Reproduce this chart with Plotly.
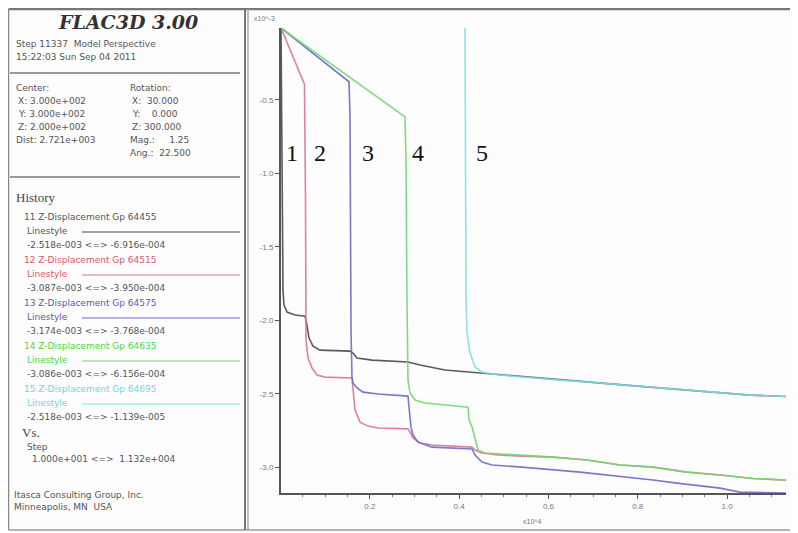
import plotly.graph_objects as go

# page body has an 8px default margin; figure is sized to fit the window
OFF = 8
W, H = 798 - OFF, 533 - OFF

# ---------------- data (step x1e4, Z-displacement x1e-3) ----------------
step_1 = [0.001, 0.0032, 0.0055, 0.0077, 0.0144, 0.0324, 0.0548, 0.0592, 0.0637, 0.0727, 0.0883,
          0.1555, 0.1623, 0.1712, 0.2048, 0.2854, 0.2944, 0.3123, 0.3683, 0.4467, 0.5407, 0.6259,
          0.7154, 0.8274, 0.9394, 1.0514, 1.132]
disp_1 = [-0.011, -1.181, -1.794, -1.896, -1.943, -1.964, -1.971, -2.032, -2.120, -2.175, -2.202,
          -2.209, -2.222, -2.256, -2.270, -2.283, -2.290, -2.304, -2.338, -2.358, -2.386, -2.406,
          -2.426, -2.454, -2.481, -2.508, -2.518]

step_2 = [0.001, 0.0536, 0.0559, 0.057, 0.0615, 0.0704, 0.0816, 0.0995, 0.16, 0.1623, 0.1667,
          0.1779, 0.1958, 0.2182, 0.2854, 0.2899, 0.2966, 0.3123, 0.3392, 0.4288, 0.4355, 0.4512,
          0.4870, 0.5407, 0.6102, 0.6863, 0.7602, 0.8341, 0.9103, 0.9842, 1.0581, 1.132]
disp_2 = [-0.011, -0.395, -1.181, -2.134, -2.256, -2.324, -2.372, -2.386, -2.392, -2.454, -2.610,
          -2.692, -2.719, -2.732, -2.738, -2.760, -2.800, -2.834, -2.848, -2.862, -2.882, -2.902,
          -2.916, -2.923, -2.930, -2.950, -2.984, -2.998, -3.032, -3.052, -3.075, -3.087]

step_3 = [0.001, 0.1533, 0.1555, 0.1566, 0.1578, 0.16, 0.1623, 0.1712, 0.1846, 0.2182, 0.2854,
          0.2877, 0.2921, 0.2966, 0.3078, 0.3392, 0.4288, 0.4355, 0.4512, 0.4736, 0.5407, 0.6706,
          0.7983, 0.8341, 0.8879, 0.9842, 1.029, 1.1029, 1.132]
disp_3 = [-0.011, -0.377, -0.60, -1.522, -2.066, -2.386, -2.426, -2.460, -2.488, -2.501, -2.515,
          -2.590, -2.726, -2.780, -2.828, -2.862, -2.875, -2.916, -2.964, -2.984, -2.998, -3.032,
          -3.073, -3.086, -3.107, -3.141, -3.168, -3.174, -3.174]

step_4 = [0.001, 0.2787, 0.2809, 0.282, 0.2832, 0.2854, 0.2899, 0.3011, 0.3235, 0.4198, 0.4221,
          0.4288, 0.4355, 0.4422, 0.4579, 0.5407, 0.6102, 0.6863, 0.7602, 0.8341, 0.9103, 0.9842,
          1.0581, 1.132]
disp_4 = [-0.011, -0.616, -0.90, -1.522, -1.862, -2.406, -2.494, -2.542, -2.562, -2.590, -2.678,
          -2.726, -2.814, -2.882, -2.902, -2.916, -2.930, -2.950, -2.984, -2.998, -3.032, -3.052,
          -3.075, -3.086]

step_5 = [0.4131, 0.4142, 0.4154, 0.4176, 0.4243, 0.4355, 0.4512, 0.4915, 0.5407, 0.6259, 0.7154,
          0.8274, 0.9394, 1.0514, 1.132]
disp_5 = [-0.011, -1.181, -1.862, -2.086, -2.222, -2.317, -2.352, -2.372, -2.386, -2.406, -2.426,
          -2.454, -2.481, -2.508, -2.518]

series_steps = [step_1, step_2, step_3, step_4, step_5]
series_disp = [disp_1, disp_2, disp_3, disp_4, disp_5]
series_colors = ["#4a4a4a", "#d8788a", "#6a6ac8", "#72d872", "#7ee2e2"]

point_labels = ["1", "2", "3", "4", "5"]
point_label_step = [0.0256, 0.0883, 0.196, 0.308, 0.451]
point_label_disp = [-0.862, -0.862, -0.862, -0.862, -0.862]

y_ticks = [-0.5, -1.0, -1.5, -2.0, -2.5, -3.0]
x_ticks = [0.2, 0.4, 0.6, 0.8, 1.0]

hist_titles = ["11 Z-Displacement Gp 64455", "12 Z-Displacement Gp 64515",
               "13 Z-Displacement Gp 64575", "14 Z-Displacement Gp 64635",
               "15 Z-Displacement Gp 64695"]
hist_ranges = ["-2.518e-003 <=> -6.916e-004", "-3.087e-003 <=> -3.950e-004",
               "-3.174e-003 <=> -3.768e-004", "-3.086e-003 <=> -6.156e-004",
               "-2.518e-003 <=> -1.139e-005"]
hist_text_colors = ["#555555", "#d85868", "#5a5ab8", "#48d848", "#6cd8e6"]

SANS = "DejaVu Sans"
FS = 9


def fx(px):
    return (px - OFF) / W


def fy(py):
    return 1 - (py - OFF) / H


# ---------------- figure ----------------
fig = go.Figure()
for xs, ys, c in zip(series_steps, series_disp, series_colors):
    fig.add_trace(go.Scatter(x=xs, y=ys, mode="lines",
                             line=dict(color=c, width=1.6), opacity=0.9,
                             showlegend=False, hoverinfo="skip"))

fig.update_layout(
    width=W, height=H, margin=dict(l=0, r=0, t=0, b=0),
    paper_bgcolor="#fdfdfd", plot_bgcolor="#fdfdfd",
    showlegend=False,
    xaxis=dict(domain=[fx(281), fx(786)], range=[0.001, 1.132],
               tickvals=x_ticks, ticktext=[f"{v:.1f}" for v in x_ticks],
               showgrid=False, zeroline=False, showline=True, linecolor="#555", linewidth=2,
               ticks="outside", ticklen=4, tickcolor="#555", tickwidth=1,
               minor=dict(dtick=0.05, ticks="outside", ticklen=2, tickcolor="#777"),
               tickfont=dict(family="Liberation Sans", size=8, color="#777")),
    yaxis=dict(domain=[fy(493), fy(28)], range=[-3.174, -0.0114],
               tickvals=y_ticks, ticktext=[f"{v:.1f}" for v in y_ticks],
               showgrid=False, zeroline=False, showline=True, linecolor="#555", linewidth=2,
               ticks="outside", ticklen=4, tickcolor="#555", tickwidth=1,
               tickfont=dict(family="Liberation Sans", size=8, color="#777")),
)

ann = []


def txt(px, py, s, size=FS, color="#555555", family=SANS, anchor="left"):
    ann.append(dict(x=fx(px), y=fy(py), xref="paper", yref="paper", text=s,
                    showarrow=False, xanchor=anchor, yanchor="middle",
                    font=dict(size=size, color=color, family=family)))


# point labels inside chart
for lab, sx, sy in zip(point_labels, point_label_step, point_label_disp):
    ann.append(dict(x=sx, y=sy, xref="x", yref="y", text=lab, showarrow=False,
                    xanchor="center", yanchor="middle",
                    font=dict(size=24, color="#111", family="Liberation Serif")))

# axis multipliers
txt(252, 18, "x10^-3", size=7, color="#777", family="Liberation Sans")
txt(521, 521, "x10^4", size=7, color="#777", family="Liberation Sans")

# left panel
txt(128, 22, "<b><i>FLAC3D 3.00</i></b>", size=19, color="#333", family="DejaVu Serif", anchor="center")
txt(14, 44, "Step 11337  Model Perspective")
txt(14, 57, "15:22:03 Sun Sep 04 2011")
txt(14, 88, "Center:")
txt(128, 88, "Rotation:")
left_col = ["X: 3.000e+002", "Y: 3.000e+002", "Z: 2.000e+002", "Dist: 2.721e+003"]
right_col = ["X:  30.000", "Y:    0.000", "Z: 300.000", "Mag.:     1.25", "Ang.:  22.500"]
for i, s in enumerate(left_col):
    txt(16 if i < 3 else 14, 101 + 13 * i, s.replace(" ", "&nbsp;"))
for i, s in enumerate(right_col):
    txt(130 if i < 3 else 128, 101 + 13 * i, s.replace(" ", "&nbsp;"))

txt(14, 197, "History", size=13, color="#444", family="Liberation Serif")
for i in range(5):
    base = 217 + 43 * i
    col = hist_text_colors[i]
    txt(22, base, hist_titles[i], color=col)
    txt(25, base + 14, "Linestyle", color=col)
    txt(25, base + 28, hist_ranges[i].replace(" ", "&nbsp;").replace("<", "&lt;").replace(">", "&gt;"),
        color="#555555")

txt(20, 432, "Vs.", size=13, color="#444", family="Liberation Serif")
txt(25, 447, "Step")
txt(30, 459, "1.000e+001&nbsp;&lt;=&gt;&nbsp;&nbsp;1.132e+004")
txt(12, 495, "Itasca Consulting Group, Inc.")
txt(12, 507, "Minneapolis, MN&nbsp;&nbsp;USA")

fig.update_layout(annotations=ann)

shapes = []


def line(x0, y0, x1, y1, color, width):
    shapes.append(dict(type="line", xref="paper", yref="paper",
                       x0=fx(x0), y0=fy(y0), x1=fx(x1), y1=fy(y1),
                       line=dict(color=color, width=width)))


# frame
line(8.5, 9, 797, 9, "#777", 2.5)
line(8.5, 9, 8.5, 530, "#888", 1.5)
line(8.5, 530, 797, 530, "#999", 1.5)
line(796.5, 9, 796.5, 530, "#bbb", 1)
line(245, 9, 245, 530, "#777", 2)
line(248, 9, 248, 530, "#aaa", 1.5)
# separators
line(10, 73, 240, 73, "#999", 2)
line(10, 177, 240, 177, "#999", 2)
# linestyle samples
for i in range(5):
    yy = 232 + 43 * i
    line(82, yy, 240, yy, series_colors[i], 1.2)

fig.update_layout(shapes=shapes)

fig.write_html("out.html")
